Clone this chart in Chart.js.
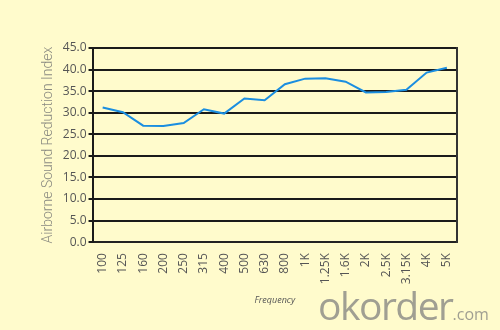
<!DOCTYPE html>
<html>
<head>
<meta charset="utf-8">
<script src="https://cdn.jsdelivr.net/npm/chart.js@4"></script>
<style>
    body { margin: 0; background: #fffbcc; }
    #wrap { position: relative; width: 500px; height: 330px; }
    #mark { position: absolute; left: 318px; top: 286px; font-family: "Open Sans", sans-serif; color: #a09f92; font-size: 39px; line-height: 38px; letter-spacing: -1.5px; }
    #mark span { font-size: 16px; letter-spacing: 0; }
</style>
</head>
<body>
<div id="wrap">
    <canvas id="soundChart" width="500" height="330"></canvas>
    <div id="mark">okorder<span>.com</span></div>
</div>
<script>
// frequency bands and reduction index
const frequencies = ['100', '125', '160', '200', '250', '315', '400', '500', '630', '800',
    '1K', '1.25K', '1.6K', '2K', '2.5K', '3.15K', '4K', '5K'];
const reductionIndex = [31.2, 30.1, 27.0, 26.9, 27.6, 30.8, 29.8, 33.3, 32.9, 36.6,
    37.9, 38.0, 37.2, 34.7, 34.8, 35.3, 39.3, 40.4];
const yMin = 0;
const yMax = 45;
const yStep = 5;

const soundChart = new Chart(document.getElementById('soundChart'), {
    type: 'line',
    data: {
        labels: frequencies,
        datasets: [{
            label: 'Airborne Sound Reduction Index',
            data: reductionIndex,
            borderColor: '#1b8ee0',
            borderWidth: 2,
            pointRadius: 0,
            tension: 0,
            fill: false
        }]
    },
    options: {
        responsive: false,
        animation: false,
        layout: { padding: { top: 48, right: 35, left: 36, bottom: 20 } },
        plugins: {
            legend: { display: false },
            tooltip: { enabled: false }
        },
        scales: {
            x: {
                offset: true,
                grid: { display: false },
                border: { display: true, color: '#222', width: 2 },
                ticks: {
                    color: '#555',
                    font: { family: 'Open Sans', size: 12 },
                    minRotation: 90,
                    maxRotation: 90,
                    padding: 3,
                    autoSkip: false
                },
                title: {
                    display: true,
                    text: 'Frequency',
                    color: '#555',
                    font: { family: 'Open Sans', size: 9, style: 'italic' },
                    padding: { top: 8 }
                }
            },
            y: {
                min: yMin,
                max: yMax,
                grid: { color: '#1a1a1a', lineWidth: 2, tickLength: 4 },
                border: { display: true, color: '#1a1a1a', width: 2 },
                ticks: {
                    stepSize: yStep,
                    color: '#555',
                    padding: 2,
                    font: { family: 'Open Sans', size: 12 },
                    callback: (v) => v.toFixed(1)
                },
                title: {
                    display: true,
                    text: 'Airborne Sound Reduction Index',
                    color: '#8a8a80',
                    font: { family: 'Roboto', size: 14, weight: '300' },
                    padding: { bottom: 4 }
                }
            },
            yRight: {
                position: 'right',
                min: yMin,
                max: yMax,
                grid: { display: false },
                ticks: { display: false },
                border: { display: true, color: '#333', width: 2 }
            }
        }
    }
});
</script>
</body>
</html>
